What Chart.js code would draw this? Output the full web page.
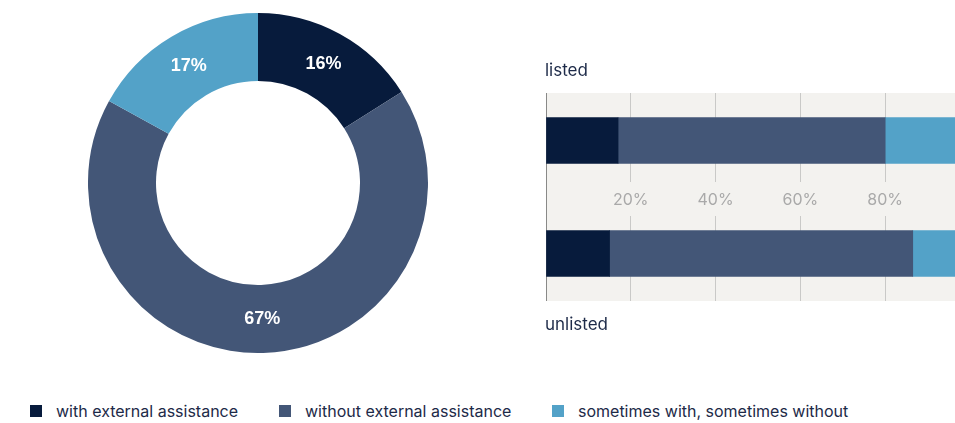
<!DOCTYPE html>
<html>
<head>
<meta charset="utf-8">
<script src="https://cdn.jsdelivr.net/npm/chart.js@4/dist/chart.umd.min.js"></script>
<style>
  html, body { margin: 0; padding: 0; width: 955px; height: 423px; overflow: hidden; background: #ffffff; }
  body { position: relative; font-family: Inter, "Noto Sans", sans-serif; }
  #donutWrap { position: absolute; left: 88px; top: 13px; width: 340px; height: 340px; }
  #barWrap { position: absolute; left: 546px; top: 50px; width: 424px; height: 300px; }
  #legend { position: absolute; left: 0; top: 401px; width: 955px; height: 22px; }
  .item { position: absolute; top: 0; display: flex; align-items: center; font-size: 16px; line-height: 20px; color: #1d2a48; white-space: nowrap; }
  .sw { width: 12px; height: 12px; margin-right: 14px; }
</style>
</head>
<body>
<div id="donutWrap"><canvas id="donut" width="340" height="340"></canvas></div>
<div id="barWrap"><canvas id="bars" width="424" height="300"></canvas></div>
<div id="legend"></div>
<script>
// Answer categories shared by both charts
const seriesNames = ['with external assistance', 'without external assistance', 'sometimes with, sometimes without'];
const seriesColors = ['#071b3c', '#435677', '#53a2c8'];

// Overall split (percent)
const overallShares = [16, 67, 17];

// Split by company type (percent)
const companyTypes = ['listed', 'unlisted'];
const withAssistance = [17, 15];
const withoutAssistance = [63, 71.5];
const sometimesBoth = [20, 13.5];

// Axis labels on the percentage scale
const tickValues = [20, 40, 60, 80];
const tickLabels = ['20%', '40%', '60%', '80%'];

const PANEL_BG = '#f3f2ef';
const PANEL_INSET = 9;   // grey panel sits slightly inside the category bands

// ---- Donut ----
const donutLabels = {
  id: 'donutLabels',
  afterDatasetsDraw(chart) {
    const ctx = chart.ctx;
    const meta = chart.getDatasetMeta(0);
    ctx.save();
    ctx.font = 'bold 18px "Liberation Sans", Arial, sans-serif';
    ctx.fillStyle = '#ffffff';
    ctx.textAlign = 'center';
    ctx.textBaseline = 'middle';
    meta.data.forEach((arc, i) => {
      const p = arc.getCenterPoint();
      ctx.fillText(overallShares[i] + '%', p.x, p.y);
    });
    ctx.restore();
  }
};

new Chart(document.getElementById('donut'), {
  type: 'doughnut',
  data: {
    labels: seriesNames,
    datasets: [{
      data: overallShares,
      backgroundColor: seriesColors,
      borderWidth: 0
    }]
  },
  options: {
    responsive: false,
    animation: false,
    cutout: '60%',
    layout: { padding: 0 },
    plugins: { legend: { display: false }, tooltip: { enabled: false } }
  },
  plugins: [donutLabels]
});

// ---- Stacked bars ----
function panelBox(chart) {
  const a = chart.chartArea;
  return { top: a.top + PANEL_INSET, bottom: a.bottom - PANEL_INSET, left: a.left, right: a.right };
}

const panel = {
  id: 'panel',
  beforeDraw(chart) {
    const ctx = chart.ctx;
    const p = panelBox(chart);
    ctx.save();
    ctx.fillStyle = PANEL_BG;
    ctx.fillRect(p.left, p.top, p.right - p.left, p.bottom - p.top);
    // keep grid, axis line and bars inside the panel
    ctx.beginPath();
    ctx.rect(p.left - 3, p.top, p.right - p.left + 3, p.bottom - p.top);
    ctx.clip();
  },
  beforeDatasetsDraw(chart) {
    // clear the grid lines behind the percentage labels between the bars
    const ctx = chart.ctx;
    const a = chart.chartArea;
    const mid = chart.scales.y.getPixelForValue(0.5);
    ctx.save();
    ctx.fillStyle = PANEL_BG;
    ctx.fillRect(a.left + 1, mid - 15, a.right - a.left, 34);
    ctx.restore();
  },
  afterDraw(chart) {
    const ctx = chart.ctx;
    ctx.restore();
    const p = panelBox(chart);
    ctx.save();
    ctx.font = '17px Inter, "Noto Sans", sans-serif';
    ctx.fillStyle = '#1d2a48';
    ctx.textAlign = 'left';
    ctx.textBaseline = 'alphabetic';
    ctx.fillText(companyTypes[0], p.left - 1, p.top - 17);
    ctx.fillText(companyTypes[1], p.left - 1, p.bottom + 29);
    ctx.restore();
  }
};

const barSets = [withAssistance, withoutAssistance, sometimesBoth].map((vals, i) => ({
  label: seriesNames[i],
  data: vals,
  backgroundColor: seriesColors[i],
  borderWidth: 0,
  barThickness: 46
}));

new Chart(document.getElementById('bars'), {
  type: 'bar',
  data: { labels: companyTypes, datasets: barSets },
  options: {
    indexAxis: 'y',
    responsive: false,
    animation: false,
    layout: { padding: { top: 34, bottom: 40, left: 0, right: 0 } },
    plugins: { legend: { display: false }, tooltip: { enabled: false } },
    scales: {
      x: {
        stacked: true,
        min: 0,
        max: 100,
        position: { y: 0.5 },
        afterBuildTicks(scale) {
          scale.ticks = [0].concat(tickValues, [100]).map(v => ({ value: v }));
        },
        grid: { color: '#c9c9c7', lineWidth: 1, drawTicks: false },
        border: { display: false },
        ticks: {
          z: 1,
          padding: -6,
          maxRotation: 0,
          autoSkip: false,
          color: '#a9a9a9',
          font: { family: 'Inter, "Noto Sans", sans-serif', size: 16 },
          callback(value) {
            const i = tickValues.indexOf(value);
            return i >= 0 ? tickLabels[i] : '';
          }
        }
      },
      y: {
        stacked: true,
        grid: { display: false, drawTicks: false },
        border: { display: true, color: '#4a4a4a', width: 1.5 },
        ticks: { display: false }
      }
    }
  },
  plugins: [panel]
});

// ---- Legend ----
const legendLefts = [30, 279, 552];
const legend = document.getElementById('legend');
seriesNames.forEach((name, i) => {
  const item = document.createElement('div');
  item.className = 'item';
  item.style.left = legendLefts[i] + 'px';
  const sw = document.createElement('span');
  sw.className = 'sw';
  sw.style.background = seriesColors[i];
  const txt = document.createElement('span');
  txt.textContent = name;
  item.appendChild(sw);
  item.appendChild(txt);
  legend.appendChild(item);
});
</script>
</body>
</html>
